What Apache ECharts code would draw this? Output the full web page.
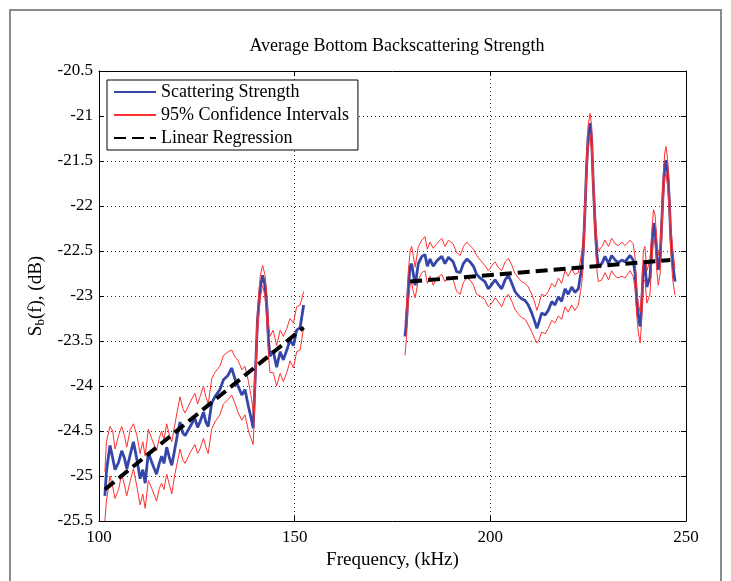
<!DOCTYPE html>
<html>
<head>
<meta charset="utf-8">
<script src="https://cdn.jsdelivr.net/npm/echarts@6/dist/echarts.min.js"></script>
<style>
  html, body { margin: 0; padding: 0; background: #fff; }
  #chart { width: 731px; height: 581px; }
</style>
</head>
<body>
<div id="chart"></div>
<script>
// low band (about 100-153 kHz)
const freq1 = [101.5, 101.9, 102.8, 103.5, 104.1, 105.0, 105.8, 106.5, 107.1, 108.0, 108.8, 109.7, 110.5, 111.2, 111.8, 112.6,
  113.6, 114.7, 115.4, 116.0, 116.6, 117.3, 118.0, 118.6, 119.3, 120.0, 120.7, 121.4, 122.0, 123.3, 124.5, 125.2, 125.8,
  126.7, 127.3, 127.9, 128.8, 129.6, 130.9, 131.8, 133.0, 133.9, 134.8, 135.6, 136.5, 137.3, 138.2, 139.0, 139.4, 139.9,
  140.5, 141.2, 141.8, 142.4, 142.9, 143.3, 143.7, 144.5, 145.4, 146.3, 147.1, 148.0, 148.8, 149.7, 150.5, 151.4, 152.3];
const strength1 = [-25.22, -24.95, -24.66, -24.80, -24.93, -24.85, -24.72, -24.80, -24.92, -24.76, -24.62, -24.82, -25.03, -24.93, -25.08, -24.74,
  -24.86, -24.98, -24.86, -24.78, -24.86, -24.68, -24.80, -24.88, -24.72, -24.55, -24.40, -24.52, -24.55, -24.45, -24.36, -24.46, -24.40,
  -24.29, -24.40, -24.45, -24.19, -24.12, -24.04, -23.93, -23.88, -23.80, -23.93, -24.01, -24.10, -24.04, -24.23, -24.38, -24.47, -23.93,
  -23.27, -22.90, -22.77, -22.88, -23.12, -23.49, -23.67, -23.61, -23.79, -23.62, -23.71, -23.60, -23.49, -23.55, -23.38, -23.35, -23.10];
const upper1 = [-24.95, -24.62, -24.45, -24.50, -24.70, -24.55, -24.45, -24.55, -24.68, -24.48, -24.42, -24.55, -24.75, -24.62, -24.78, -24.48,
  -24.60, -24.72, -24.58, -24.50, -24.60, -24.42, -24.55, -24.62, -24.45, -24.28, -24.12, -24.25, -24.30, -24.18, -24.08, -24.20, -24.12,
  -24.00, -24.12, -24.20, -23.92, -23.85, -23.78, -23.66, -23.62, -23.60, -23.68, -23.72, -23.82, -23.78, -23.95, -24.15, -24.28, -23.80,
  -23.15, -22.78, -22.66, -22.76, -22.98, -23.30, -23.45, -23.38, -23.55, -23.38, -23.45, -23.36, -23.25, -23.30, -23.12, -23.10, -22.95];
const lower1 = [-25.50, -25.28, -25.00, -25.12, -25.25, -25.15, -24.98, -25.10, -25.22, -25.05, -24.92, -25.12, -25.32, -25.20, -25.36, -25.05,
  -25.15, -25.28, -25.14, -25.08, -25.15, -24.98, -25.10, -25.20, -25.00, -24.85, -24.70, -24.82, -24.86, -24.74, -24.65, -24.75, -24.70,
  -24.58, -24.68, -24.75, -24.48, -24.40, -24.32, -24.20, -24.15, -24.10, -24.20, -24.30, -24.38, -24.32, -24.50, -24.60, -24.65, -24.10,
  -23.42, -23.02, -22.88, -23.00, -23.30, -23.65, -23.85, -23.85, -24.00, -23.86, -23.95, -23.85, -23.72, -23.80, -23.62, -23.60, -23.35];

// high band (about 178-247 kHz)
const freq2 = [178.2, 178.6, 179.0, 179.5, 179.9, 180.3, 180.8, 181.6, 182.5, 183.3, 183.9, 184.6, 185.4, 186.3, 187.6, 188.4,
  189.3, 190.5, 191.4, 192.3, 193.1, 194.0, 194.8, 195.7, 196.5, 197.4, 198.6, 199.5, 200.4, 201.2, 202.0, 202.9, 203.8,
  204.6, 205.5, 206.3, 207.2, 208.0, 208.9, 209.7, 210.6, 211.4, 211.9, 212.5, 213.1, 214.0, 214.8, 215.7, 216.5, 217.4,
  218.2, 219.1, 219.9, 220.8, 221.6, 222.5, 223.4, 223.8, 224.2, 224.6, 225.0, 225.5, 225.9, 226.3, 226.8, 227.2, 227.6,
  228.5, 229.3, 230.2, 231.0, 231.9, 232.7, 233.6, 234.4, 235.7, 236.5, 237.0, 237.4, 237.8, 238.3, 238.7, 239.1, 239.5,
  240.0, 240.4, 240.8, 241.2, 241.7, 242.1, 242.5, 242.9, 243.4, 243.8, 244.2, 244.6, 244.9, 245.3, 245.7, 246.1, 246.6, 247.2];
const strength2 = [-23.45, -23.27, -22.93, -22.67, -22.64, -22.75, -22.88, -22.64, -22.56, -22.54, -22.67, -22.59, -22.67, -22.61, -22.56, -22.64,
  -22.57, -22.62, -22.73, -22.74, -22.64, -22.59, -22.62, -22.67, -22.76, -22.80, -22.84, -22.92, -22.87, -22.82, -22.87, -22.92, -22.82,
  -22.77, -22.86, -22.95, -23.00, -23.03, -23.05, -23.10, -23.19, -23.29, -23.36, -23.28, -23.19, -23.21, -23.16, -23.06, -23.10, -23.01,
  -23.06, -22.92, -22.98, -22.90, -22.96, -22.92, -22.67, -22.45, -22.04, -21.56, -21.23, -21.08, -21.27, -21.75, -22.23, -22.53, -22.67,
  -22.64, -22.56, -22.64, -22.55, -22.60, -22.63, -22.60, -22.62, -22.55, -22.60, -22.75, -23.05, -23.23, -23.34, -23.08, -22.67, -22.64,
  -22.90, -22.92, -22.79, -22.49, -22.19, -22.26, -22.53, -22.71, -22.58, -22.19, -21.79, -21.53, -21.49, -21.62, -21.90, -22.34, -22.64, -22.84];
const upper2 = [-23.30, -23.10, -22.75, -22.50, -22.45, -22.55, -22.68, -22.45, -22.38, -22.34, -22.48, -22.40, -22.47, -22.42, -22.36, -22.45,
  -22.38, -22.42, -22.52, -22.55, -22.45, -22.40, -22.44, -22.48, -22.55, -22.60, -22.66, -22.72, -22.66, -22.62, -22.68, -22.72, -22.62,
  -22.58, -22.66, -22.75, -22.80, -22.84, -22.86, -22.90, -22.98, -23.08, -23.16, -23.08, -22.98, -23.00, -22.95, -22.86, -22.90, -22.80,
  -22.86, -22.72, -22.78, -22.70, -22.76, -22.74, -22.50, -22.30, -21.90, -21.42, -21.10, -20.97, -21.12, -21.60, -22.08, -22.36, -22.50,
  -22.45, -22.38, -22.45, -22.36, -22.42, -22.44, -22.40, -22.44, -22.38, -22.42, -22.58, -22.90, -23.08, -23.18, -22.92, -22.50, -22.45,
  -22.72, -22.74, -22.60, -22.32, -22.04, -22.10, -22.36, -22.55, -22.42, -22.04, -21.64, -21.40, -21.34, -21.48, -21.76, -22.20, -22.48, -22.70];
const lower2 = [-23.66, -23.45, -23.10, -22.88, -22.85, -22.95, -23.02, -22.82, -22.74, -22.72, -22.86, -22.78, -22.88, -22.80, -22.76, -22.84,
  -22.78, -22.82, -22.95, -22.98, -22.85, -22.80, -22.82, -22.88, -22.98, -23.00, -23.04, -23.12, -23.08, -23.02, -23.06, -23.12, -23.02,
  -22.98, -23.06, -23.15, -23.20, -23.24, -23.26, -23.32, -23.40, -23.48, -23.52, -23.48, -23.40, -23.42, -23.36, -23.27, -23.30, -23.22,
  -23.26, -23.12, -23.18, -23.10, -23.16, -23.10, -22.85, -22.62, -22.20, -21.70, -21.38, -21.20, -21.42, -21.90, -22.38, -22.70, -22.84,
  -22.82, -22.74, -22.82, -22.72, -22.78, -22.80, -22.78, -22.80, -22.72, -22.78, -22.92, -23.20, -23.40, -23.52, -23.25, -22.85, -22.82,
  -23.08, -23.10, -22.98, -22.66, -22.36, -22.42, -22.70, -22.88, -22.75, -22.35, -21.95, -21.68, -21.64, -21.78, -22.06, -22.50, -22.82, -22.99];

// regression end points
const regFreq1 = [101.5, 152.3];
const regValue1 = [-25.15, -23.35];
const regFreq2 = [179.5, 246.0];
const regValue2 = [-22.84, -22.60];

const xTicks = { min: 100, max: 250, interval: 50 };
const yTicks = { min: -25.5, max: -20.5, interval: 0.5 };

const FONT = '"Liberation Serif", "Times New Roman", serif';
const NAME_S = 'Scattering Strength';
const NAME_CI = '95% Confidence Intervals';
const NAME_LR = 'Linear Regression';

function pairs(xs, ys) {
  return xs.map((x, i) => [x, ys[i]]);
}

function lineSeries(name, xs, ys, color, width, type, z) {
  return {
    name: name,
    type: 'line',
    data: pairs(xs, ys),
    symbol: 'none',
    showSymbol: false,
    animation: false,
    silent: true,
    z: z,
    lineStyle: { color: color, width: width, type: type },
    itemStyle: { color: color }
  };
}

const blue = '#3646a8';
const red = '#ff3030';

const axisBase = {
  type: 'value',
  axisLine: { show: true, lineStyle: { color: '#000', width: 1 } },
  axisTick: { show: true, inside: true, length: 5, lineStyle: { color: '#000' } },
  splitLine: { show: false }
};

let myChart = echarts.init(document.getElementById('chart'));
myChart.setOption({
  backgroundColor: '#fff',
  animation: false,
  textStyle: { fontFamily: FONT },
  title: {
    text: 'Average Bottom Backscattering Strength',
    left: 392,
    top: 32,
    textAlign: 'center',
    textStyle: { fontFamily: FONT, fontSize: 18, fontWeight: 'normal', color: '#000' }
  },
  graphic: [{
    type: 'rect',
    silent: true,
    z: -10,
    shape: { x: 10, y: 10, width: 711, height: 620 },
    style: { fill: null, stroke: '#8a8a8a', lineWidth: 2 }
  }],
  legend: {
    data: [NAME_S, NAME_CI, NAME_LR],
    orient: 'vertical',
    left: 107,
    top: 80,
    padding: [3, 9, 3, 6],
    itemGap: 5,
    itemWidth: 42,
    itemHeight: 18,
    backgroundColor: '#fff',
    borderColor: '#000',
    borderWidth: 1,
    borderRadius: 0,
    selectedMode: false,
    itemStyle: { opacity: 0 },
    textStyle: { fontFamily: FONT, fontSize: 18, color: '#000' }
  },
  grid: { left: 99, right: 45, top: 71, bottom: 60, show: false },
  xAxis: [
    Object.assign({}, axisBase, {
      position: 'bottom',
      min: xTicks.min, max: xTicks.max, interval: xTicks.interval,
      axisLabel: { color: '#000', fontFamily: FONT, fontSize: 17, margin: 8 },
      splitLine: { show: true, lineStyle: { color: '#333', width: 1, type: [1, 3] } },
      name: 'Frequency, (kHz)',
      nameLocation: 'middle',
      nameGap: 26,
      nameTextStyle: { color: '#000', fontFamily: FONT, fontSize: 19 }
    }),
    Object.assign({}, axisBase, {
      position: 'top',
      min: xTicks.min, max: xTicks.max, interval: xTicks.interval,
      axisLabel: { show: false }
    })
  ],
  yAxis: [
    Object.assign({}, axisBase, {
      position: 'left',
      min: yTicks.min, max: yTicks.max, interval: yTicks.interval,
      axisLabel: { color: '#000', fontFamily: FONT, fontSize: 17, margin: 6 },
      splitLine: { show: true, lineStyle: { color: '#333', width: 1, type: [1, 3] } },
      name: 'S{sub|b}(f), (dB)',
      nameLocation: 'middle',
      nameRotate: 90,
      nameGap: 41,
      nameTextStyle: {
        color: '#000', fontFamily: FONT, fontSize: 19,
        rich: { sub: { fontFamily: FONT, fontSize: 13, color: '#000', padding: [8, 0, 0, 0] } }
      }
    }),
    Object.assign({}, axisBase, {
      position: 'right',
      min: yTicks.min, max: yTicks.max, interval: yTicks.interval,
      axisLabel: { show: false }
    })
  ],
  series: [
    lineSeries(NAME_S, freq1, strength1, blue, 2.8, 'solid', 3),
    lineSeries(NAME_S, freq2, strength2, blue, 2.8, 'solid', 3),
    lineSeries(NAME_CI, freq1, upper1, red, 1, 'solid', 4),
    lineSeries(NAME_CI, freq1, lower1, red, 1, 'solid', 4),
    lineSeries(NAME_CI, freq2, upper2, red, 1, 'solid', 4),
    lineSeries(NAME_CI, freq2, lower2, red, 1, 'solid', 4),
    lineSeries(NAME_LR, regFreq1, regValue1, '#000', 4, [12, 6], 5),
    lineSeries(NAME_LR, regFreq2, regValue2, '#000', 4, [12, 6], 5)
  ]
});
window.onresize = function () {
  myChart.resize();
};
</script>
</body>
</html>
